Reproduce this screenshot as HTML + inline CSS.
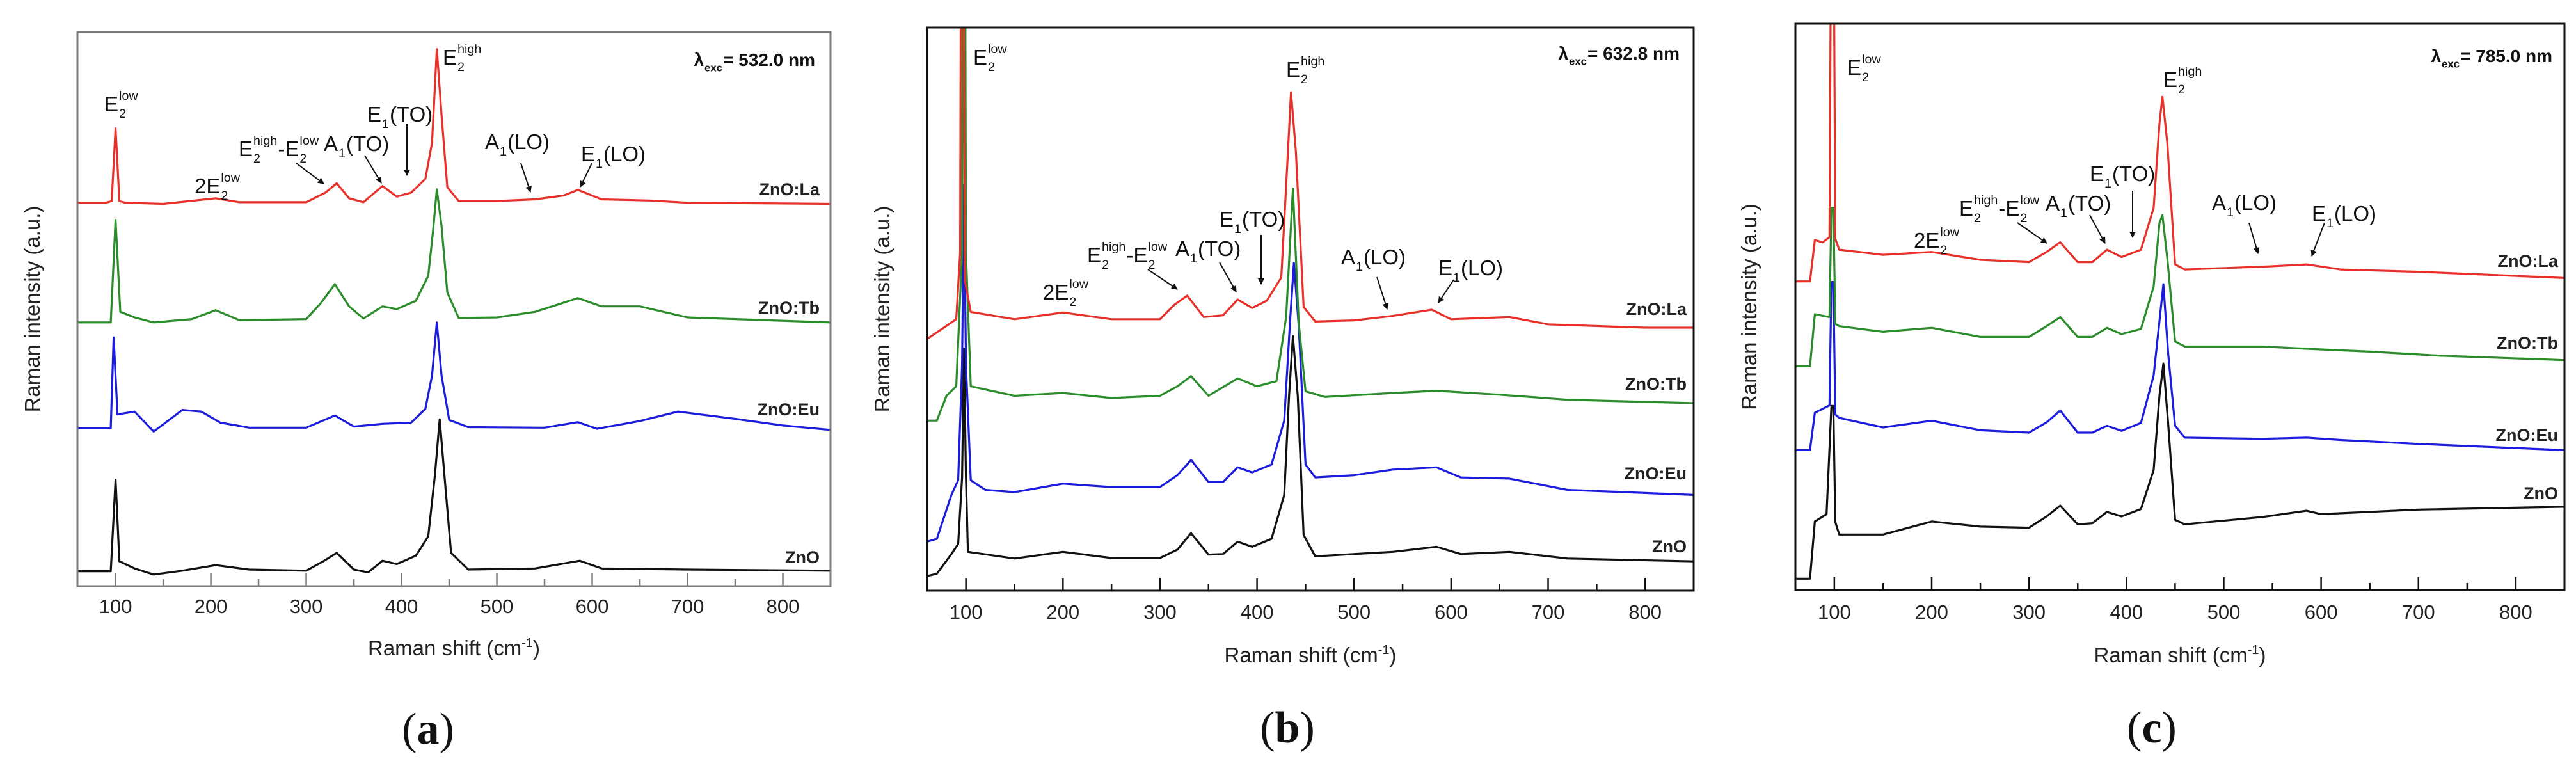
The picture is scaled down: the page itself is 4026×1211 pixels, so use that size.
<!DOCTYPE html>
<html><head><meta charset="utf-8">
<style>
html,body{margin:0;padding:0;background:#fff;}
svg{display:block;font-family:"Liberation Sans",Arial,sans-serif;}
</style></head>
<body>
<svg id="fig" width="4026" height="1211" viewBox="0 0 4026 1211" xmlns="http://www.w3.org/2000/svg">
<rect x="0" y="0" width="4026" height="1211" fill="#fff"/>
</svg>
<script>
// ---------- DATA ----------
const xTicks = [100,200,300,400,500,600,700,800];
const xMinor = [150,250,350,450,550,650,750];
const sampleNames = ["ZnO:La","ZnO:Tb","ZnO:Eu","ZnO"];
const lasers = ["532.0","632.8","785.0"];

// Panel (a) 532 nm – intensity in arbitrary units (0..100 of panel height)
const aLa = [[60,69.2],[90,69.2],[96,69.5],[100,82.6],[104,69.5],[110,69.2],[150,69.0],[205,70.0],[230,69.3],[300,69.3],[320,71.0],[332,72.7],[345,70.0],[360,69.3],[380,72.2],[395,70.3],[410,71.0],[425,73.5],[432,80],[437,96.9],[442,85],[448,72],[460,69.5],[500,69.5],[540,69.8],[570,70.5],[585,71.5],[610,69.8],[660,69.6],[700,69.2],[850,69.0]];
const aTb = [[60,47.6],[95,47.6],[100,66.1],[105,49.5],[120,48.5],[140,47.6],[180,48.2],[205,49.8],[230,48.0],[300,48.2],[315,51],[330,54.5],[345,50.5],[360,48.3],[380,50.5],[395,50],[415,51.5],[428,56],[433,64],[437,71.6],[442,65],[448,53],[460,48.4],[500,48.5],[540,49.5],[585,52.0],[610,50.5],[650,50.5],[700,48.5],[850,47.6]];
const aEu = [[60,28.5],[95,28.5],[98,44.9],[102,31],[120,31.5],[140,27.9],[170,31.8],[190,31.5],[210,29.5],[240,28.6],[300,28.6],[330,30.8],[350,28.8],[380,29.3],[410,29.5],[425,32],[432,38],[437,47.6],[442,38],[450,30],[470,28.7],[550,28.6],[585,29.6],[605,28.4],[650,29.8],[690,31.5],[750,30.2],[800,29.0],[850,28.2]];
const aZnO = [[60,2.7],[95,2.7],[100,19.2],[104,4.5],[120,3.2],[140,2.1],[170,2.8],[205,3.8],[240,3],[300,2.8],[318,4.5],[332,6.0],[350,3],[365,2.5],[380,4.6],[395,4],[415,5.5],[428,9],[435,20],[440,30.1],[445,20],[452,6],[470,3],[540,3.2],[587,4.6],[610,3.2],[700,3],[850,2.8]];

// Panel (b) 632.8 nm
const bLa = [[60,44.7],[90,48.2],[94,60],[95,130],[97,130],[99,55],[105,49.5],[150,48.2],[200,49.4],[250,48.2],[300,48.2],[315,50.8],[328,52.4],[345,48.6],[365,48.9],[380,51.7],[395,50.2],[410,51.5],[425,55.6],[432,78.4],[435,88.5],[440,78],[448,50.4],[460,47.8],[500,48.0],[540,48.8],[580,49.9],[600,48.2],[660,48.6],[700,47.3],[800,46.7],[850,46.7]];
const bTb = [[60,30.2],[70,30.2],[80,34.6],[90,36.3],[96,60],[97,130],[99,130],[100,60],[105,36.3],[150,34.6],[200,35.1],[250,34.2],[300,34.6],[318,36.3],[332,38.1],[350,34.6],[380,37.7],[400,36.3],[420,37.2],[430,48.6],[437,71.4],[443,47.5],[450,35.4],[470,34.4],[540,35.1],[585,35.5],[650,34.8],[720,33.9],[850,33.3]];
const bEu = [[60,8.7],[70,9.2],[85,17],[92,19.6],[96,40],[98,72],[100,40],[105,19.6],[120,17.9],[150,17.5],[200,19],[250,18.4],[300,18.4],[318,20.5],[332,23.2],[350,19.3],[365,19.3],[380,21.9],[395,21],[415,22.4],[428,30.2],[434,47.8],[438,58.2],[443,47],[450,22.4],[460,20.1],[500,20.5],[540,21.5],[585,21.9],[610,20.1],[660,19.9],[720,17.9],[850,17]];
const bZnO = [[60,2.6],[70,3],[85,6.5],[92,8.3],[96,20],[98,43],[100,20],[102,6.9],[150,5.7],[200,6.9],[250,5.8],[300,5.8],[318,7.3],[332,10.2],[350,6.4],[365,6.5],[380,8.7],[395,7.8],[415,9.2],[428,17],[433,34.5],[437,45.2],[442,34.5],[448,9.9],[460,6.1],[540,6.9],[585,7.8],[610,6.5],[660,6.9],[720,5.7],[850,5.2]];

// Panel (c) 785 nm
const cLa = [[60,54.5],[75,54.5],[80,61.8],[88,61.4],[95,62.3],[97,130],[99,130],[101,62],[105,60.1],[150,59.2],[200,59.7],[250,58.3],[300,57.9],[318,59.7],[332,61.4],[350,57.9],[365,57.9],[380,60.1],[395,58.8],[415,60.1],[428,67.5],[434,82.4],[437,87.1],[442,79],[450,57.5],[460,56.6],[540,57.1],[585,57.5],[620,56.6],[700,56.2],[850,55.1]];
const cTb = [[60,39.5],[75,39.5],[80,48.7],[95,48.2],[97,67.5],[99,67.5],[101,47],[105,46.6],[150,45.6],[200,46.3],[250,44.7],[300,44.7],[318,46.6],[332,48.2],[350,44.7],[365,44.7],[380,46.3],[395,45.2],[415,46.1],[428,53.6],[434,64.8],[437,66.2],[442,58.6],[450,43.9],[460,43.0],[540,43.0],[585,42.6],[650,42.1],[720,41.4],[850,40.6]];
const cEu = [[60,24.7],[75,24.7],[80,31.3],[95,32.6],[97,54.4],[99,54.4],[101,31],[105,30.4],[150,28.7],[200,29.9],[250,28.2],[300,27.8],[318,29.6],[332,31.7],[350,27.8],[365,27.8],[380,29.0],[395,28.1],[415,29.5],[428,37.9],[434,47.5],[438,54.0],[443,41.6],[450,29.0],[460,26.9],[540,26.7],[585,26.9],[620,26.5],[700,25.8],[850,24.7]];
const cZnO = [[60,2.0],[75,2.0],[80,12.1],[92,13.4],[97,32.5],[99,32.5],[101,12],[105,9.8],[150,9.8],[200,12.1],[250,11.2],[300,11.0],[318,13.0],[332,14.9],[350,11.6],[365,11.8],[380,13.8],[395,13.0],[415,14.3],[428,21.2],[434,34.3],[438,40.0],[443,29.2],[450,12.4],[460,11.6],[540,12.9],[585,14.0],[600,13.4],[700,14.2],[850,14.7]];

const panelSeries = [[aLa,aTb,aEu,aZnO],[bLa,bTb,bEu,bZnO],[cLa,cTb,cEu,cZnO]];
const colors = ["#e8302a","#2a8c2a","#1c1cdc","#111111"];

// ---------- LAYOUT ----------
const panels = [
  {id:"a", L:121, R:1298, T:50, B:916, frame:"#7a7a7a", yTitleX:51, tickY:958, titleY:1024, letterY:1162, letterX:669,
   labelsY:[296,481,640,871], labelR:1281, lamY:93, lamR:1274},
  {id:"b", L:1449, R:2647, T:43, B:923, frame:"#111", yTitleX:1379, tickY:967, titleY:1035, letterY:1160, letterX:2012,
   labelsY:[483,600,740,854], labelR:2636, lamY:83, lamR:2625},
  {id:"c", L:2806, R:4008, T:37, B:922, frame:"#111", yTitleX:2734, tickY:967, titleY:1035, letterY:1160, letterX:3363,
   labelsY:[408,536,680,771], labelR:3998, lamY:87, lamR:3989}
];

// annotations per panel: [segments, x, y]
const ann = [
 [
  [[{t:"E"},{sup:"low",sub:"2"}],163,162],
  [[{t:"2E"},{sup:"low",sub:"2"}],304,290],
  [[{t:"E"},{sup:"high",sub:"2"},{t:"-E"},{sup:"low",sub:"2"}],373,232],
  [[{t:"A"},{sub:"1"},{t:"(TO)"}],506,224],
  [[{t:"E"},{sub:"1"},{t:"(TO)"}],574,178],
  [[{t:"E"},{sup:"high",sub:"2"}],692,89],
  [[{t:"A"},{sub:"1"},{t:"(LO)"}],758,221],
  [[{t:"E"},{sub:"1"},{t:"(LO)"}],908,240]
 ],
 [
  [[{t:"E"},{sup:"low",sub:"2"}],1521,89],
  [[{t:"E"},{sup:"high",sub:"2"}],2010,108],
  [[{t:"E"},{sub:"1"},{t:"(TO)"}],1906,342],
  [[{t:"E"},{sup:"high",sub:"2"},{t:"-E"},{sup:"low",sub:"2"}],1699,398],
  [[{t:"A"},{sub:"1"},{t:"(TO)"}],1837,388],
  [[{t:"2E"},{sup:"low",sub:"2"}],1630,456],
  [[{t:"A"},{sub:"1"},{t:"(LO)"}],2096,401],
  [[{t:"E"},{sub:"1"},{t:"(LO)"}],2248,418]
 ],
 [
  [[{t:"E"},{sup:"low",sub:"2"}],2887,105],
  [[{t:"E"},{sup:"high",sub:"2"}],3381,124],
  [[{t:"E"},{sub:"1"},{t:"(TO)"}],3266,271],
  [[{t:"E"},{sup:"high",sub:"2"},{t:"-E"},{sup:"low",sub:"2"}],3062,325],
  [[{t:"A"},{sub:"1"},{t:"(TO)"}],3197,317],
  [[{t:"2E"},{sup:"low",sub:"2"}],2991,375],
  [[{t:"A"},{sub:"1"},{t:"(LO)"}],3457,316],
  [[{t:"E"},{sub:"1"},{t:"(LO)"}],3613,333]
 ]
];
const arrows = [
 [[463,255,506,287],[570,243,596,286],[636,193,636,274],[814,255,829,300],[925,255,907,292]],
 [[1794,421,1840,452],[1906,410,1932,456],[1971,367,1971,444],[2152,433,2168,483],[2272,437,2248,473]],
 [[3153,348,3199,380],[3266,336,3290,380],[3333,298,3333,371],[3515,348,3529,396],[3633,348,3613,400]]
];

// ---------- DRAW ----------
const NS = "http://www.w3.org/2000/svg";
const svg = document.getElementById("fig");
function el(tag, attrs, parent){
  const e = document.createElementNS(NS, tag);
  for (const k in attrs) e.setAttribute(k, attrs[k]);
  (parent||svg).appendChild(e);
  return e;
}
const defs = el("defs",{});
const mk = el("marker",{id:"ah",viewBox:"0 0 10 10",refX:"9",refY:"5",markerWidth:"5",markerHeight:"5",orient:"auto"},defs);
el("path",{d:"M0,0 L10,5 L0,10 z",fill:"#111"},mk);

function rich(parent, x, y, segs, size, weight){
  let cx = x;
  const g = el("g",{},parent);
  for (const s of segs){
    if (s.t !== undefined){
      const t = el("text",{x:cx,y:y,"font-size":size,"font-weight":weight||"normal",fill:"#111"},g);
      t.textContent = s.t;
      cx += t.getComputedTextLength();
    } else {
      let w = 0;
      if (s.sup){
        const t = el("text",{x:cx+1,y:y-size*0.55,"font-size":size*0.6,fill:"#111","font-weight":weight||"normal"},g);
        t.textContent = s.sup; w = Math.max(w,t.getComputedTextLength());
      }
      if (s.sub){
        const t = el("text",{x:cx+1,y:y+size*0.3,"font-size":size*0.6,fill:"#111","font-weight":weight||"normal"},g);
        t.textContent = s.sub; w = Math.max(w,t.getComputedTextLength());
      }
      cx += w + 2;
    }
  }
  return {g:g,w:cx-x};
}

panels.forEach((p, pi) => {
  const g = el("g",{});
  
  
  const xs = v => p.L + (v-60)/(850-60)*(p.R-p.L);
  const ys = v => p.B - v/100*(p.B-p.T);

  const cp = el("clipPath",{id:"clip"+p.id},defs);
  el("rect",{x:p.L,y:p.T,width:p.R-p.L,height:p.B-p.T},cp);

  // series (draw bottom to top so La on top)
  const sg = el("g",{"clip-path":"url(#clip"+p.id+")"},g);
  for (let si = 3; si >= 0; si--){
    const d = panelSeries[pi][si].map((pt,i)=>(i?"L":"M")+xs(pt[0]).toFixed(1)+","+ys(pt[1]).toFixed(1)).join(" ");
    const path = el("path",{d:d,fill:"none",stroke:colors[si],"stroke-width":"3.2","stroke-linejoin":"round"},sg);
    
    
  }

  // frame
  const fr = el("rect",{x:p.L,y:p.T,width:p.R-p.L,height:p.B-p.T,fill:"none",stroke:p.frame,"stroke-width":"3"},g);
  
  

  // ticks
  const ax = el("g",{},g);
  
  
  xTicks.forEach(v=>{
    el("line",{x1:xs(v),x2:xs(v),y1:p.B,y2:p.B-20,stroke:p.frame,"stroke-width":"2.5"},ax);
    const t = el("text",{x:xs(v),y:p.tickY,"font-size":"31","text-anchor":"middle",fill:"#222"},ax);
    t.textContent = v;
  });
  xMinor.forEach(v=>{
    el("line",{x1:xs(v),x2:xs(v),y1:p.B,y2:p.B-11,stroke:p.frame,"stroke-width":"2.5"},ax);
  });

  // axis titles
  const xt = el("text",{x:(p.L+p.R)/2,y:p.titleY,"font-size":"33","text-anchor":"middle",fill:"#222"},g);
  
  
  xt.innerHTML = 'Raman shift (cm<tspan dy="-13" font-size="20">-1</tspan><tspan dy="13">)</tspan>';
  const yt = el("text",{x:0,y:0,"font-size":"33","text-anchor":"middle",fill:"#222",transform:"translate("+(p.yTitleX+11)+","+((p.T+p.B)/2)+") rotate(-90)"},g);
  
  
  yt.textContent = "Raman intensity (a.u.)";

  // sample labels
  sampleNames.forEach((n,i)=>{
    const t = el("text",{x:p.labelR,y:p.labelsY[i]+9,"font-size":"27","font-weight":"bold","text-anchor":"end",fill:"#222"},g);
    
    
    t.textContent = n;
  });

  // laser label
  const lg = el("g",{},g);
  
  
  const r = rich(lg, 0, p.lamY+10, [{t:"λ"},{sub:"exc"},{t:" = "+lasers[pi]+" nm"}], 28, "bold");
  r.g.setAttribute("transform","translate("+(p.lamR-r.w)+",0)");

  // annotations
  const ag = el("g",{},g);
  
  
  ann[pi].forEach(a=>{ rich(ag, a[1], a[2]+12, a[0], 33, "normal"); });
  arrows[pi].forEach(a=>{
    const ln = el("line",{x1:a[0],y1:a[1],x2:a[2],y2:a[3],stroke:"#111","stroke-width":"2","marker-end":"url(#ah)"},ag);
    
    
  });

  // panel letter
  const pl = el("text",{x:p.letterX,y:p.letterY,"font-size":"70","text-anchor":"middle",fill:"#111","font-family":"Liberation Serif, serif"},g);
  
  
  pl.innerHTML = '(<tspan font-weight="bold">'+p.id+'</tspan>)';
});
</script>
</body></html>
